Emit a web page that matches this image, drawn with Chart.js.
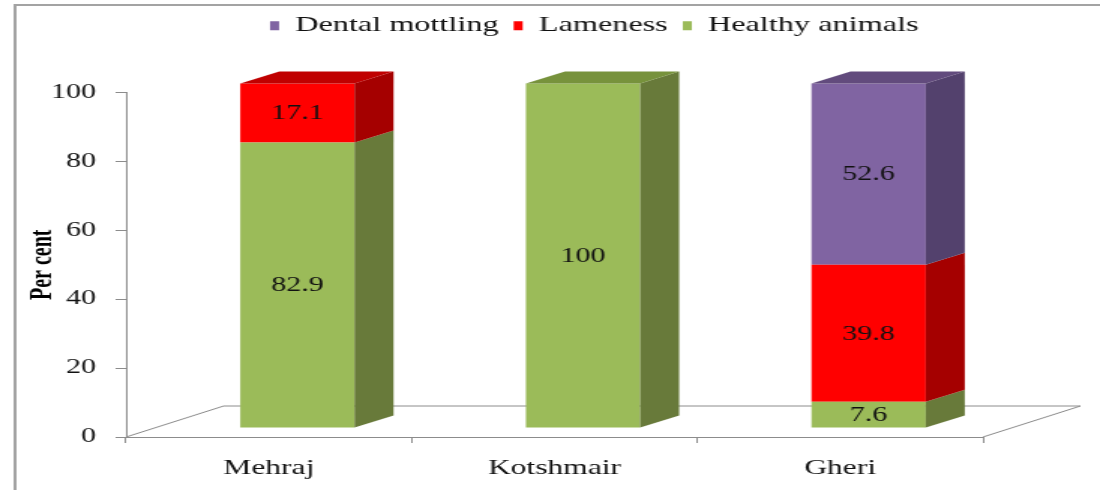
<!DOCTYPE html>
<html>
<head>
<meta charset="utf-8">
<script src="https://cdn.jsdelivr.net/npm/chart.js@4.4.0/dist/chart.umd.min.js"></script>
<style>
  html, body { margin: 0; padding: 0; background: #fff; overflow: hidden; }
  #wrap { width: 1100px; height: 490px; }
  /* the original figure is a 4:3 chart stretched sideways, so we draw narrow and stretch */
  #chart { display: block; transform: scaleX(1.50068); transform-origin: 0 0; }
</style>
</head>
<body>
<div id="wrap"><canvas id="chart" width="733" height="490"></canvas></div>
<script>
const categories = ['Mehraj', 'Kotshmair', 'Gheri'];
const healthyAnimals = [82.9, 100, 7.6];
const lameness = [17.1, 0, 39.8];
const dentalMottling = [0, 0, 52.6];
const yTickStep = 20;

// 3D look (unstretched px)
const DEPTH_X = 26, DEPTH_Y = 12;
const SHIFT_X = 19, SHIFT_Y = 9;
const FLOOR_X = 65, FLOOR_Y = 31;
const axisGray = '#8c8c8c';

const box3d = {
    id: 'box3d',
    afterLayout(chart) {
        const lg = chart.legend;
        if (!lg) return;
        const dx = 396 - (lg.left + lg.right) / 2;
        const dy = 5 - lg.top;
        lg.left += dx; lg.right += dx;
        lg.top += dy; lg.bottom += dy;
    },
    beforeDraw(chart) {
        const ctx = chart.ctx;
        ctx.save();
        ctx.fillStyle = '#fff';
        ctx.fillRect(0, 0, chart.width, chart.height);
        ctx.strokeStyle = '#a3a3a3';
        ctx.lineWidth = 2;
        ctx.strokeRect(10, 5, chart.width + 40, chart.height + 40);
        ctx.restore();
    },
    beforeDatasetsDraw(chart) {
        const { ctx, chartArea: a, scales: { y } } = chart;
        const y0 = y.getPixelForValue(0);
        ctx.save();
        ctx.strokeStyle = axisGray;
        ctx.lineWidth = 1;
        ctx.beginPath();
        ctx.moveTo(a.left, y0);
        ctx.lineTo(a.left + FLOOR_X, y0 - FLOOR_Y);
        ctx.lineTo(a.right + FLOOR_X, y0 - FLOOR_Y);
        ctx.lineTo(a.right, y0);
        ctx.stroke();
        ctx.restore();
        ctx.save();
        ctx.translate(SHIFT_X, -SHIFT_Y);
    },
    afterDatasetsDraw(chart) {
        const ctx = chart.ctx;
        const sets = chart.data.datasets;
        sets.forEach((ds, di) => {
            const meta = chart.getDatasetMeta(di);
            meta.data.forEach((bar, i) => {
                const v = ds.data[i];
                if (!v) return;
                const { x, y, base, width } = bar.getProps(['x', 'y', 'base', 'width'], true);
                const l = x - width / 2, r = x + width / 2;
                // right side
                ctx.fillStyle = ds.sideColor;
                ctx.beginPath();
                ctx.moveTo(r, y);
                ctx.lineTo(r + DEPTH_X, y - DEPTH_Y);
                ctx.lineTo(r + DEPTH_X, base - DEPTH_Y);
                ctx.lineTo(r, base);
                ctx.closePath();
                ctx.fill();
                // top face only on the highest segment
                let isTop = true;
                for (let k = di + 1; k < sets.length; k++) {
                    if (sets[k].data[i] > 0) isTop = false;
                }
                if (isTop) {
                    ctx.fillStyle = ds.topColor;
                    ctx.beginPath();
                    ctx.moveTo(l, y);
                    ctx.lineTo(l + DEPTH_X, y - DEPTH_Y);
                    ctx.lineTo(r + DEPTH_X, y - DEPTH_Y);
                    ctx.lineTo(r, y);
                    ctx.closePath();
                    ctx.fill();
                }
                // value label
                ctx.fillStyle = '#111';
                ctx.font = "20px 'Liberation Serif', 'Times New Roman', serif";
                ctx.textAlign = 'center';
                ctx.textBaseline = 'middle';
                ctx.fillText(String(v), x, (y + base) / 2 + 1);
            });
        });
        ctx.restore();
    }
};

Chart.defaults.font.family = "'Liberation Serif', 'Times New Roman', serif";
Chart.defaults.color = '#111';

new Chart(document.getElementById('chart'), {
    type: 'bar',
    data: {
        labels: categories,
        datasets: [{
            label: 'Healthy animals',
            data: healthyAnimals,
            backgroundColor: '#9bbb59',
            sideColor: '#687a3a',
            topColor: '#77923c',
            borderWidth: 0
        }, {
            label: 'Lameness',
            data: lameness,
            backgroundColor: '#ff0000',
            sideColor: '#a50000',
            topColor: '#c00000',
            borderWidth: 0
        }, {
            label: 'Dental mottling',
            data: dentalMottling,
            backgroundColor: '#8064a2',
            sideColor: '#53416d',
            topColor: '#624b7d',
            borderWidth: 0
        }]
    },
    options: {
        responsive: false,
        animation: false,
        layout: { padding: { top: 51, left: 0, right: 78, bottom: 0 } },
        datasets: { bar: { barPercentage: 0.4, categoryPercentage: 1, clip: false } },
        plugins: {
            legend: {
                position: 'top',
                reverse: true,
                labels: {
                    boxWidth: 6,
                    boxHeight: 9,
                    padding: 10,
                    color: '#111',
                    font: { size: 21.5 }
                }
            },
            tooltip: { enabled: false }
        },
        scales: {
            x: {
                stacked: true,
                grid: { drawOnChartArea: false, tickLength: 6, color: axisGray },
                border: { color: axisGray },
                ticks: { font: { size: 21 }, padding: 13, color: '#111' },
                afterFit: (s) => { s.height = 53; }
            },
            y: {
                stacked: true,
                min: 0,
                max: 100,
                grid: { drawOnChartArea: false, tickLength: 7, color: axisGray },
                border: { color: axisGray },
                ticks: { stepSize: yTickStep, font: { size: 20 }, padding: 13, color: '#111' },
                title: {
                    display: true,
                    text: 'Per cent',
                    font: { size: 20, weight: 'bold' },
                    padding: { top: 17, bottom: 0 },
                    color: '#000'
                },
                afterFit: (s) => { s.width = 84; }
            }
        }
    },
    plugins: [box3d]
});
</script>
</body>
</html>
